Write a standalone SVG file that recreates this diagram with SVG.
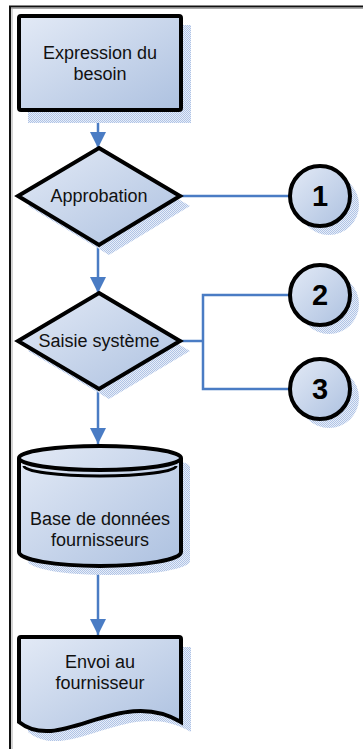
<svg xmlns="http://www.w3.org/2000/svg" width="363" height="749" viewBox="0 0 363 749">
<style>
.shape{fill:url(#g);stroke:#000;stroke-width:4;stroke-linejoin:miter}
.shadow{fill:url(#hatch);stroke:none}
.lbl{font-family:"Liberation Sans",Arial,sans-serif;font-size:18px;fill:#111;text-anchor:middle}
.num{font-family:"Liberation Sans",Arial,sans-serif;font-size:29px;font-weight:bold;fill:#000;text-anchor:middle}
.con{fill:none;stroke:#4a7cc4;stroke-width:2.5}
</style>
<defs>
<linearGradient id="g" x1="0" y1="0" x2="1" y2="1">
<stop offset="0" stop-color="#e3eaf6"/>
<stop offset="1" stop-color="#adc1e0"/>
</linearGradient>
<pattern id="hatch" width="2" height="2" patternUnits="userSpaceOnUse">
<rect width="2" height="2" fill="#e8eef8"/>
<rect width="1" height="1" fill="#afc3e6"/>
<rect x="1" y="1" width="1" height="1" fill="#afc3e6"/>
</pattern>
<marker id="arr" markerUnits="userSpaceOnUse" markerWidth="16" markerHeight="16" refX="16" refY="8" orient="auto">
<path d="M0,0 L16,8 L0,16 Z" fill="#4a7cc4"/>
</marker>
</defs>
<rect width="363" height="749" fill="#fff"/>
<g id="frame">
<line x1="9" y1="8.5" x2="363" y2="8.5" stroke="#aaa" stroke-width="1"/>
<line x1="12" y1="8" x2="12" y2="749" stroke="#aaa" stroke-width="1"/>
<line x1="9" y1="6.5" x2="363" y2="6.5" stroke="#111" stroke-width="2"/>
<line x1="10" y1="6" x2="10" y2="749" stroke="#111" stroke-width="2"/>
</g>
<g id="connectors">
<line class="con" x1="98" y1="112" x2="98" y2="148" marker-end="url(#arr)"/>
<line class="con" x1="98" y1="245" x2="98" y2="293" marker-end="url(#arr)"/>
<line class="con" x1="98" y1="389" x2="98" y2="444" marker-end="url(#arr)"/>
<line class="con" x1="98" y1="568" x2="98" y2="635" marker-end="url(#arr)"/>
<line class="con" x1="180" y1="196" x2="290" y2="196"/>
<polyline class="con" points="180,341 203,341"/>
<polyline class="con" points="290,295 203,295 203,389 290,389"/>
</g>
<g id="n-expression">
<rect class="shadow" x="28" y="25" width="163" height="98"/>
<rect class="shape" x="19" y="16" width="162" height="94" rx="2"/>
<text class="lbl" x="100" y="59">Expression du</text>
<text class="lbl" x="100" y="80">besoin</text>
</g>
<g id="n-approbation">
<polygon class="shadow" points="109,158 190,206 109,255 28,206"/>
<polygon class="shape" points="99,148 180,196 99,245 18,196"/>
<text class="lbl" x="99" y="202">Approbation</text>
</g>
<g id="n-saisie">
<polygon class="shadow" points="109,303 190,351 109,399 28,351"/>
<polygon class="shape" points="99,293 180,341 99,389 18,341"/>
<text class="lbl" x="99" y="347">Saisie système</text>
</g>
<g id="n-c1">
<circle class="shadow" cx="329" cy="205" r="30"/>
<circle class="shape" cx="320" cy="196" r="30"/>
<text class="num" x="320" y="206">1</text>
</g>
<g id="n-c2">
<circle class="shadow" cx="329" cy="304" r="30"/>
<circle class="shape" cx="320" cy="295" r="30"/>
<text class="num" x="320" y="305">2</text>
</g>
<g id="n-c3">
<circle class="shadow" cx="329" cy="398" r="30"/>
<circle class="shape" cx="320" cy="389" r="30"/>
<text class="num" x="320" y="399">3</text>
</g>
<g id="n-base">
<path class="shadow" d="M28,467 A81,12 0 0 1 190,467 L190,561 A81,14 0 0 1 28,561 Z"/>
<path class="shape" d="M19,458 A81,12 0 0 1 181,458 L181,552 A81,14 0 0 1 19,552 Z"/>
<path d="M19,458 A81,12 0 0 0 181,458" fill="none" stroke="#000" stroke-width="4"/>
<path d="M24,466 A76,10 0 0 0 176,466" fill="none" stroke="#000" stroke-width="3"/>
<text class="lbl" x="100" y="525">Base de données</text>
<text class="lbl" x="100" y="546">fournisseurs</text>
</g>
<g id="n-envoi">
<path class="shadow" d="M28,647 L191,647 L191,732 C129,695 69,765 28,732 Z"/>
<path class="shape" d="M21,637 L179,637 Q181,637 181,639 L181,722 C120,685 60,755 19,722 L19,639 Q19,637 21,637 Z"/>
<text class="lbl" x="100" y="668">Envoi au</text>
<text class="lbl" x="100" y="689">fournisseur</text>
</g>
</svg>
